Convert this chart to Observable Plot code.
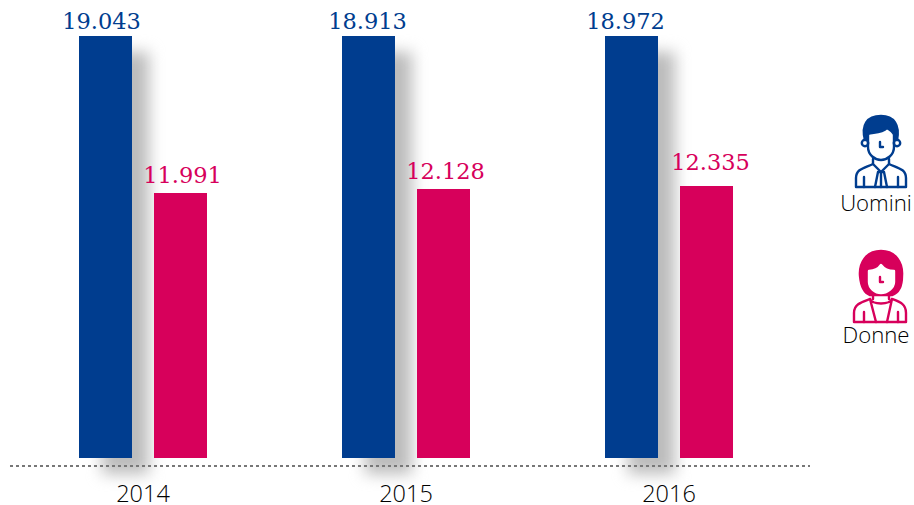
<!DOCTYPE html>
<html>
<head>
<meta charset="utf-8">
<script src="https://cdn.jsdelivr.net/npm/d3@7"></script>
<script src="https://cdn.jsdelivr.net/npm/@observablehq/plot@0.6"></script>
<style>
  html, body { margin: 0; padding: 0; background: #fff; }
  #wrap { position: relative; width: 914px; height: 505px; overflow: hidden; }
  .key { position: absolute; left: 840px; width: 74px; text-align: center; font: 300 22.2px "Open Sans", sans-serif; color: #000; line-height: 26px; }
  .key svg { display: block; width: 74px; height: 80px; }
  .key div { margin-left: -2px; }
</style>
</head>
<body>
<div id="wrap">
  <div id="chart"></div>
  <div class="key" style="top:110px">
    <svg viewBox="0 0 74 80" fill="none" stroke="#003d8f" stroke-width="2.4" stroke-linejoin="round" stroke-linecap="round">
      <path d="M25 30C21 15 27 6 41 6C54 6 60 15 57 30L54 24C52 21 50 20 47 18C41 24 32 22 28 24Z" fill="#003d8f"/>
      <circle cx="25" cy="33" r="3.2"/><circle cx="57" cy="33" r="3.2"/>
      <path d="M28 24V37C28 45 35 50 41 50C47 50 54 45 54 37V24"/>
      <path d="M40 32V37H43" />
      <path d="M33 49V54L41 62L49 54V49"/>
      <path d="M33 54C24 58 16 59 16 68V77H66V68C66 59 58 58 49 54"/>
      <path d="M24 67V77M58 67V77M38 62L35 77M44 62L47 77M38 62H44M41 62V77"/>
    </svg>
    <div>Uomini</div>
  </div>
  <div class="key" style="top:245px">
    <svg viewBox="0 0 74 80" fill="none" stroke="#d7005b" stroke-width="2.4" stroke-linejoin="round" stroke-linecap="round">
      <path d="M41 6C26 6 19 18 20 31C21 42 24 48 30 50H52C58 48 62 42 62 31C63 18 56 6 41 6Z" fill="#d7005b"/>
      <path d="M29 26C35 26 39 23 41 20C44 24 49 26 54 26V37C54 43 47 48 41 48C35 48 29 43 29 37Z" fill="#fff" stroke="#fff"/>
      <path d="M40 32V37H43" />
      <path d="M33 50V54M49 50V54"/>
      <path d="M30 54C22 57 14 59 14 68V77H66V68C66 59 60 57 52 54"/>
      <path d="M30 54C33 60 49 60 52 54M30 54L36 77M52 54L47 77M24 67V77M58 67V77"/>
    </svg>
    <div style="margin-top:-3px">Donne</div>
  </div>
</div>
<script>
const years = ["2014", "2015", "2016"];
const seriesNames = ["Uomini", "Donne"];
// Bar heights
const uominiBars = [19043, 19043, 19043];
const donneBars = [11958, 12139, 12274];
// Printed labels
const uominiLabels = ["19.043", "18.913", "18.972"];
const donneLabels = ["11.991", "12.128", "12.335"];
const colors = ["#003d8f", "#d7005b"];
// Label nudges seen in the reference
const labelDx = [[-4.5, -1.5, -6.5], [1.5, 1.5, 3.5]];
const labelDy = [[-8, -8, -8], [-11, -10, -17]];

const rows = years.flatMap((year, i) => [
  {year, series: "Uomini", value: uominiBars[i], label: uominiLabels[i], s: 0, i},
  {year, series: "Donne", value: donneBars[i], label: donneLabels[i], s: 1, i}
]);
const serifFont = "'DejaVu Serif', serif";

// Dotted baseline across the whole frame: function marks run once per facet, so only the first draws
let baselineDrawn = false;
function baseline(index, scales) {
  if (baselineDrawn) return null;
  baselineDrawn = true;
  const line = document.createElementNS("http://www.w3.org/2000/svg", "line");
  line.setAttribute("x1", 9);
  line.setAttribute("x2", 809);
  line.setAttribute("y1", scales.y(0) + 8);
  line.setAttribute("y2", scales.y(0) + 8);
  line.setAttribute("stroke", "#777");
  line.setAttribute("stroke-width", 1.8);
  line.setAttribute("stroke-dasharray", "3 3");
  return line;
}

const chart = Plot.plot({
  width: 914, height: 520,
  marginLeft: 10, marginRight: 106, marginTop: 36, marginBottom: 62,
  style: {background: "transparent", overflow: "visible"},
  fx: {domain: years, range: [10, 808], paddingInner: 0, paddingOuter: 0.0171, align: 0.111, round: false, label: null},
  x: {domain: seriesNames, range: [78, 206], paddingInner: 0.2933, paddingOuter: 0, align: 0, round: false, axis: null, label: null},
  y: {domain: [0, 19043], range: [458, 36], axis: null},
  color: {domain: seriesNames, range: colors},
  marks: [
    Plot.barY(rows.filter(d => d.series === "Uomini"), {
      fx: "year", x: "series", y: "value", fill: "#bcbcbc",
      dx: 17, dy: 16, insetLeft: 6, imageFilter: "blur(7.5px)"
    }),
    Plot.barY(rows, {fx: "year", x: "series", y: "value", fill: "series"}),
    baseline,
    ...rows.map(d => Plot.text([d], {
      fx: "year", x: "series", y: "value", text: "label",
      fill: colors[d.s], fontFamily: serifFont, fontSize: 22.5,
      lineAnchor: "bottom", dx: labelDx[d.s][d.i], dy: labelDy[d.s][d.i]
    })),
    Plot.axisFx({anchor: "bottom", tickSize: 0, tickPadding: 27, fontSize: 23.5, fontWeight: 300, fontFamily: "'Open Sans', sans-serif", fill: "#000", label: null})
  ]
});
document.getElementById("chart").appendChild(chart);
</script>
</body>
</html>
